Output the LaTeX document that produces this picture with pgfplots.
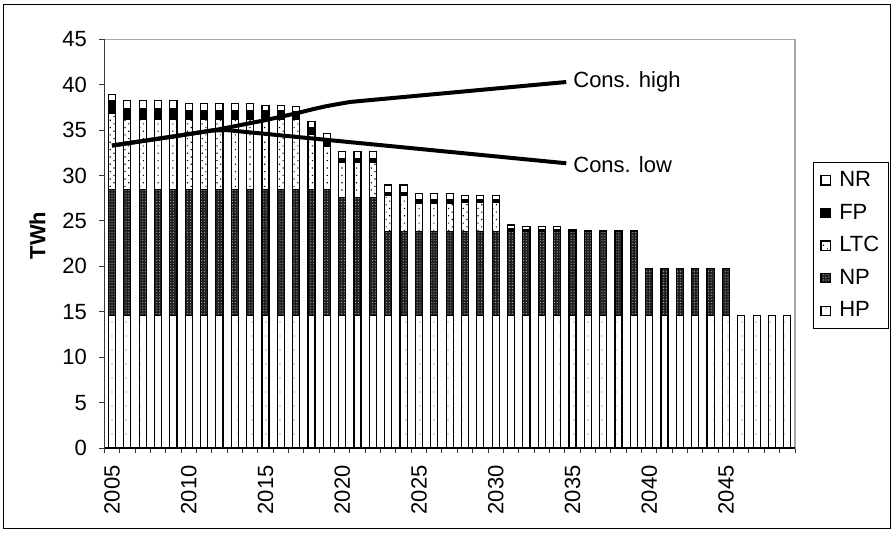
\documentclass[border=0pt]{standalone}
\usepackage{fontspec}
\setmainfont{Liberation Sans}
\usepackage{pgfplots}
\pgfplotsset{compat=1.18}
\usepackage{pgfplotstable}
\usetikzlibrary{patterns.meta}

\pgfplotstableread{
x HP NP LTC FP NR
0 14.6 13.9 8.35 1.4 0.7
1 14.6 13.9 7.7 1.13 0.92
2 14.6 13.9 7.7 1.13 0.92
3 14.6 13.9 7.7 1.13 0.92
4 14.6 13.9 7.7 1.13 0.92
5 14.6 13.9 7.7 0.95 0.75
6 14.6 13.9 7.7 0.95 0.75
7 14.6 13.9 7.7 0.95 0.75
8 14.6 13.9 7.7 0.95 0.75
9 14.6 13.9 7.7 0.95 0.75
10 14.6 13.9 7.7 0.9 0.6
11 14.6 13.9 7.7 0.9 0.6
12 14.6 13.9 7.7 0.85 0.55
13 14.6 13.9 6.0 0.8 0.64
14 14.6 13.9 4.76 0.64 0.7
15 14.6 13.0 3.8 0.5 0.73
16 14.6 13.0 3.8 0.5 0.73
17 14.6 13.0 3.8 0.5 0.73
18 14.6 9.2 4.0 0.36 0.8
19 14.6 9.2 4.0 0.36 0.8
20 14.6 9.2 3.15 0.35 0.75
21 14.6 9.2 3.15 0.35 0.75
22 14.6 9.2 3.15 0.35 0.75
23 14.6 9.2 3.2 0.3 0.5
24 14.6 9.2 3.2 0.3 0.5
25 14.6 9.2 3.2 0.3 0.5
26 14.6 9.2 0.13 0.27 0.36
27 14.6 9.2 0.1 0.15 0.32
28 14.6 9.2 0.1 0.15 0.32
29 14.6 9.2 0.1 0.15 0.32
30 14.6 9.2 0 0.1 0.2
31 14.6 9.3 0 0 0
32 14.6 9.3 0 0 0
33 14.6 9.3 0 0 0
34 14.6 9.3 0 0 0
35 14.6 5.2 0 0 0
36 14.6 5.2 0 0 0
37 14.6 5.2 0 0 0
38 14.6 5.2 0 0 0
39 14.6 5.2 0 0 0
40 14.6 5.2 0 0 0
41 14.6 0 0 0 0
42 14.6 0 0 0 0
43 14.6 0 0 0 0
44 14.6 0 0 0 0
}\datatable

\pgfplotstableread{
x y
0 33.3
4 34.3
7 35.1
10 36.1
12 36.85
13.2 37.35
14 37.65
15.5 38.1
29.6 40.3
}\conshigh

\pgfplotstableread{
x y
0 33.3
4 34.3
6.5 34.95
7.5 35.0
29.6 31.35
}\conslow

\newcommand{\chartfont}{\fontsize{11}{13}\selectfont}

\begin{document}
\begin{tikzpicture}
\path[use as bounding box] (0,0) rectangle (446pt,266pt);
\draw[black, line width=0.5pt] (1.5pt,2pt) rectangle (445pt,264pt);
\begin{axis}[
  at={(52.15pt,42pt)}, anchor=south west,
  scale only axis, width=345.35pt, height=204.35pt,
  ybar stacked, bar width=0.46,
  xmin=-0.5, xmax=44.5, ymin=0, ymax=45,
  ytick={0,5,...,45},
  xtick={0,5,...,40},
  xticklabels={2005,2010,2015,2020,2025,2030,2035,2040,2045},
  minor xtick={-0.5,0.5,...,44.5},
  tick pos=left, tick align=outside,
  major tick length=2.6pt, minor tick length=2.6pt,
  major x tick style={draw=none},
  minor x tick style={black!80, line width=0.5pt},
  major y tick style={black!80, line width=0.5pt},
  axis line style={gray!70, line width=0.6pt},
  tick label style={font=\chartfont},
  /pgf/number format/assume math mode=true,
  xticklabel style={rotate=90, anchor=east, inner sep=5.9pt},
  yticklabel style={inner sep=5.9pt},
  ylabel={\textbf{TWh}},
  ylabel style={at={(axis description cs:-0.097,0.52)}, anchor=center, font=\chartfont},
  reverse legend,
  legend image code/.code={\draw[#1] (0pt,-2.3pt) rectangle (4.6pt,2.3pt);},
  legend style={at={(1.026,0.70)}, anchor=north west, font=\chartfont,
    draw=black, line width=0.5pt, inner xsep=3.5pt, inner ysep=3pt, row sep=4.3pt,
    nodes={inner sep=1pt, text height=8pt, text depth=2pt},
    /tikz/every odd column/.append style={column sep=3.2pt},
    cells={anchor=west}},
  every axis plot/.append style={draw=black, line width=0.6pt},
]
\addplot[fill=white, postaction={pattern={Dots[distance=7pt,radius=0.35pt]}, pattern color=black!60}] table[x=x,y=HP]{\datatable};
\addlegendentry{HP}
\addplot[fill=black!88, postaction={pattern={Dots[distance=1.4pt,radius=0.28pt]}, pattern color=white!70!black}] table[x=x,y=NP]{\datatable};
\addlegendentry{NP}
\addplot[fill=white, postaction={pattern={Dots[distance=2.6pt,radius=0.4pt,angle=45]}, pattern color=black}] table[x=x,y=LTC]{\datatable};
\addlegendentry{LTC}
\addplot[fill=black] table[x=x,y=FP]{\datatable};
\addlegendentry{FP}
\addplot[fill=white] table[x=x,y=NR]{\datatable};
\addlegendentry{NR}
\draw[black, line width=0.6pt] (rel axis cs:0,1) -- (rel axis cs:0,0) -- (rel axis cs:1,0);
\end{axis}
\begin{axis}[
  at={(52.15pt,42pt)}, anchor=south west,
  scale only axis, width=345.35pt, height=204.35pt,
  xmin=-0.5, xmax=44.5, ymin=0, ymax=45,
  axis lines=none, clip=false,
]
\addplot[black, line width=2pt, line join=round, no marks] table[x=x,y=y]{\conshigh};
\addplot[black, line width=2pt, line join=round, no marks] table[x=x,y=y]{\conslow};
\node[anchor=west, font=\chartfont] at (axis cs:29.6,40.3) {Cons. high};
\node[anchor=west, font=\chartfont] at (axis cs:29.6,31.2) {Cons. low};
\end{axis}
\end{tikzpicture}
\end{document}
